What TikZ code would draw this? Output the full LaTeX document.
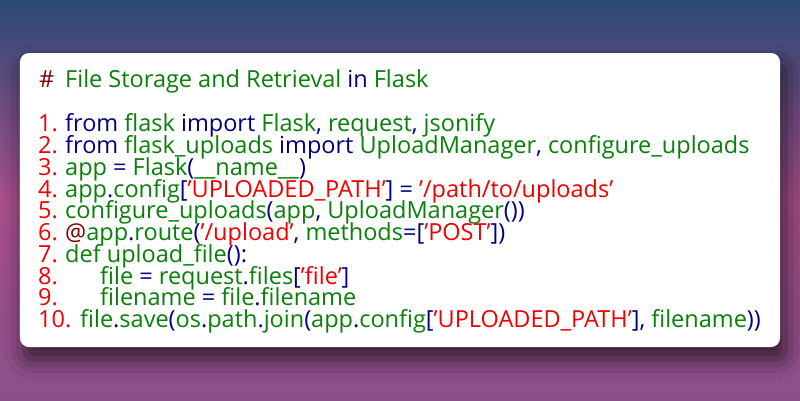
\documentclass[tikz,border=0pt]{standalone}
\usepackage{fontspec}
\setmainfont{Open Sans}
\usetikzlibrary{shadows.blur}
\definecolor{bgtop}{HTML}{2B4A76}
\definecolor{bgmid}{HTML}{A84E8C}
\definecolor{bgbot}{HTML}{8A508A}
\definecolor{cR}{HTML}{F00000}
\definecolor{cG}{HTML}{0A800A}
\definecolor{cN}{HTML}{000080}
\definecolor{cD}{HTML}{800000}
\newcommand\R[1]{\textcolor{cR}{#1}}
\newcommand\G[1]{\textcolor{cG}{#1}}
\newcommand\N[1]{\textcolor{cN}{#1}}
\newcommand\D[1]{\textcolor{cD}{#1}}
\tikzset{
  codeline/.style={anchor=base west, inner sep=0pt, font=\fontsize{23.5bp}{26bp}\selectfont},
  numlbl/.style={codeline, text=cR},
}
\begin{document}
\begin{tikzpicture}[x=1bp,y=-1bp]
\useasboundingbox (0,0) rectangle (800,400);
\shade[top color=bgtop, bottom color=bgbot, middle color=bgmid] (0,0) rectangle (800,400);
\node[draw=none, fill=white, rounded corners=9bp, minimum width=760bp, minimum height=294bp, inner sep=0pt,
  blur shadow={shadow xshift=5bp, shadow yshift=-12bp, shadow blur radius=20bp, shadow opacity=65}] (card) at (400,200) {};
\node[numlbl, text=cD] (h) at (39,87) {\#};
\node[codeline] (title) at (65,87) {\G{File Storage and Retrieval} \N{in} \G{Flask}};
\node[numlbl] (n1) at (38,131) {1.};
\node[codeline] (l1) at (65,131) {\N{from} \G{flask} \N{import} \G{Flask}\N{,} \G{request}\N{,} \G{jsonify}};
\node[numlbl] (n2) at (38,153) {2.};
\node[codeline] (l2) at (65,153) {\N{from} \G{flask\_uploads} \N{import} \G{UploadManager}\N{,} \G{configure\_uploads}};
\node[numlbl] (n3) at (38,175) {3.};
\node[codeline] (l3) at (65,175) {\G{app} \N{=} \G{Flask}\N{(}\G{\_\_name\_\_}\N{)}};
\node[numlbl] (n4) at (38,197) {4.};
\node[codeline] (l4) at (65,197) {\G{app}\N{.}\G{config}\N{[}\R{’UPLOADED\_PATH’}\N{] =} \R{’/path/to/uploads’}};
\node[numlbl] (n5) at (38,218) {5.};
\node[codeline] (l5) at (65,218) {\G{configure\_uploads}\N{(}\G{app}\N{,} \G{UploadManager}\N{())}};
\node[numlbl] (n6) at (38,240) {6.};
\node[codeline] (l6) at (65,240) {\D{@}\G{app}\N{.}\G{route}\N{(}\R{’/upload’}\N{,} \G{methods}\N{=[}\R{’POST’}\N{])}};
\node[numlbl] (n7) at (38,262) {7.};
\node[codeline] (l7) at (65,262) {\G{def upload\_file}\N{():}};
\node[numlbl] (n8) at (38,284) {8.};
\node[codeline] (l8) at (100,284) {\G{file} \N{=} \G{request}\N{.}\G{files}\N{[}\R{’file’}\N{]}};
\node[numlbl] (n9) at (38,305) {9.};
\node[codeline] (l9) at (100,305) {\G{filename} \N{=} \G{file}\N{.}\G{filename}};
\node[numlbl] (n10) at (38,327) {10.};
\node[codeline] (l10) at (80,327) {\G{file}\N{.}\G{save}\N{(}\G{os}\N{.}\G{path}\N{.}\G{join}\N{(}\G{app}\N{.}\G{config}\N{[}\R{’UPLOADED\_PATH’}\N{],} \G{filename}\N{))}};
\end{tikzpicture}
\end{document}
